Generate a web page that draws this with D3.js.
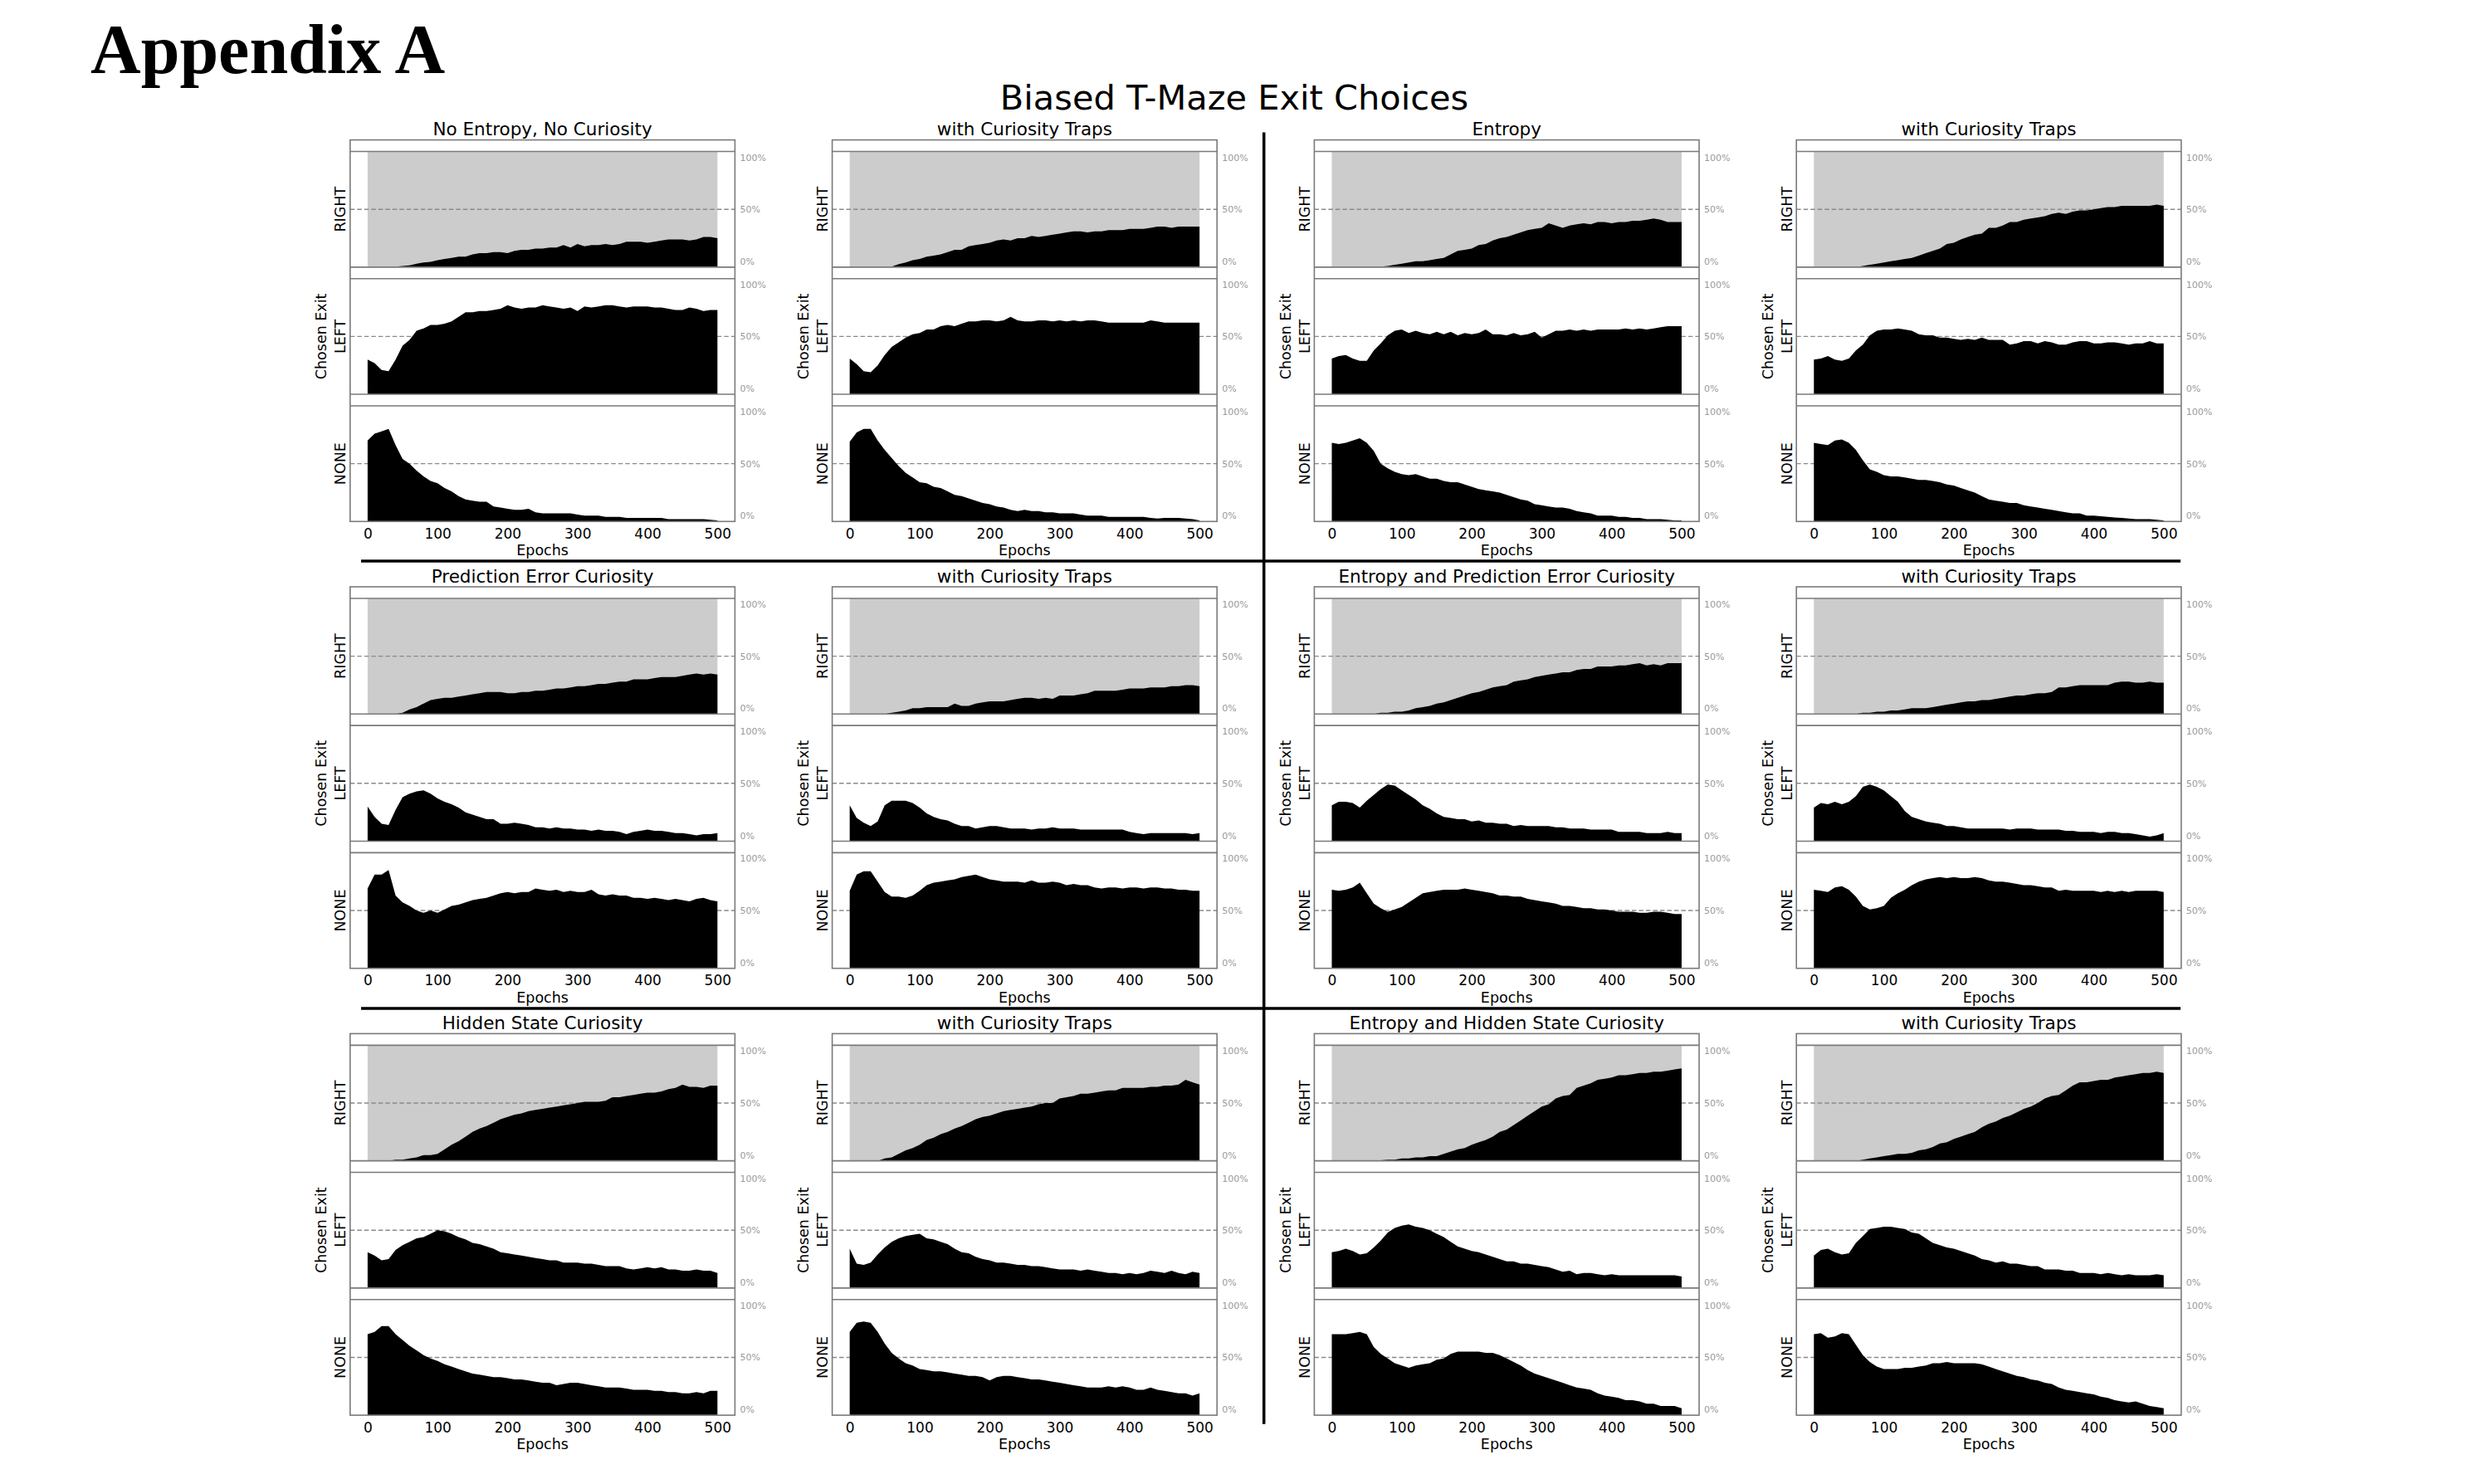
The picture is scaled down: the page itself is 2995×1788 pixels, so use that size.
<!DOCTYPE html>
<html><head><meta charset="utf-8">
<script src="https://cdn.jsdelivr.net/npm/d3@7"></script>
<style>
body{margin:0;background:#fff}
svg{display:block}
text{font-family:"DejaVu Sans",sans-serif}
</style>
</head><body>
<svg id="chart" width="2995" height="1788"></svg>
<script>
// ---------------- data ----------------
const epochs=[0,10,20,30,40,50,60,70,80,90,100,110,120,130,140,150,160,170,180,190,200,210,220,230,240,250,260,270,280,290,300,310,320,330,340,350,360,370,380,390,400,410,420,430,440,450,460,470,480,490,500];
const xTicks=[0,100,200,300,400,500];
const yTickValues=[0.05,0.5,0.95];
const yTickLabels=["0%","50%","100%"];
const exitLabels=["RIGHT","LEFT","NONE"];
const panelTitles=["No Entropy, No Curiosity","with Curiosity Traps","Entropy","with Curiosity Traps",
  "Prediction Error Curiosity","with Curiosity Traps","Entropy and Prediction Error Curiosity","with Curiosity Traps",
  "Hidden State Curiosity","with Curiosity Traps","Entropy and Hidden State Curiosity","with Curiosity Traps"];
const mainTitle="Biased T-Maze Exit Choices";
const headerText="Appendix A";

// values in percent, one per epoch in `epochs`
const right_p1=[0,0,0,0,0.5,1,1.5,3,4,4.5,6,7,8,9,9,11,12,12,13,13,12,14,15,15,16,16,17,17,19,17,20,18,19,19,20,19,20,22,22,22,21,22,23,24,24,24,23,24,26,26,25];
const left_p1=[30,27,21,20,30,42,47,55,57,60,60,61,63,67,71,71,72,72,73,74,77,75,74,75,75,77,76,75,74,75,72,76,75,76,77,77,76,75,76,76,76,75,75,74,73,73,75,74,72,73,73];
const none_p1=[70,76,78,80,66,54,50,44,39,35,33,29,26,22,19,18,17,17,13,12,11,10,10,11,8,7,7,7,7,7,6,5,5,5,4,4,4,3,3,3,3,3,3,2,2,2,2,2,2,1.5,1];

const right_p2=[0,0,0,0,0,0,0.5,2.5,4,6,7,9,10,11,13,15,15,18,19,20,21,23,24,23,25,25,27,26,27,28,29,30,31,31,30,31,31,32,32,32,33,33,33,34,35,35,34,35,35,35,35];
const left_p2=[31,26,20,19,25,34,41,45,49,52,53,56,56,59,60,59,61,63,63,64,64,63,64,67,64,63,63,64,64,63,64,63,64,63,64,64,63,62,62,62,62,62,62,64,63,62,62,62,62,62,62];
const none_p2=[69,77,80,80,70,62,55,48,42,38,34,33,30,29,26,23,22,20,18,16,15,13,12,10,9,10,9,9,8,8,7,7,7,6,5,5,5,4,4,4,4,4,4,3,2.5,3,3,3,2.5,2,1];

const right_p3=[0,0,0,0,0,0,0,0.5,1,2,3,4,5,5,6,7,8,11,14,15,16,19,20,23,25,26,28,30,32,33,34,38,36,34,36,37,38,37,39,39,38,39,39,40,40,41,42,41,39,39,39];
const left_p3=[31,33,34,31,29,29,38,44,51,55,56,53,55,53,52,54,52,54,51,53,52,53,56,52,52,51,53,51,52,54,49,52,55,55,56,55,56,55,56,56,56,56,57,56,57,56,57,58,59,59,59];
const none_p3=[68,67,68,70,72,68,61,50,46,43,41,40,41,39,37,37,35,34,34,32,30,28,27,26,25,23,21,19,18,15,14,13,12,12,11,9,8,7,5,5,5,4,4,3,3,2,2,2,1.5,1,1];

const right_p4=[0,0,0,0,0,0,0,1,2,3,4,5,6,7,8,10,12,14,16,20,21,24,26,28,29,34,34,36,39,39,41,42,43,44,46,47,46,48,49,49,50,51,52,52,53,53,53,53,53,54,53];
const left_p4=[30,31,33,30,29,31,38,43,51,55,56,56,57,56,55,52,51,51,49,49,48,47,48,47,49,47,47,47,43,44,46,46,44,46,45,43,43,45,46,46,44,44,45,45,44,43,44,44,46,44,44];
const none_p4=[68,67,66,70,71,68,62,53,45,43,40,39,39,38,37,36,36,35,34,32,31,29,27,25,22,19,18,17,16,16,14,13,12,11,10,9,8,7,7,5,5,4.5,4,3.5,3,2.5,2,2,2,1.5,1];

const right_p5=[0,0,0,0,0,1,4,6,9,12,13,14,14,15,16,17,18,19,19,19,18,18,19,19,20,20,21,22,22,23,24,24,25,26,26,27,28,28,30,30,30,31,32,32,32,33,34,35,34,35,34];
const left_p5=[30,21,15,14,27,38,41,43,44,41,37,34,32,29,25,23,21,19,19,15,15,16,15,14,12,12,11,12,11,11,10,10,9,10,9,9,8,6,8,9,10,9,9,8,7,7,6,5,6,6,7];
const none_p5=[69,81,81,85,63,57,54,50,48,50,48,51,54,55,57,59,60,61,63,65,66,65,66,66,69,68,67,68,66,67,66,66,68,64,63,64,63,63,61,61,60,61,60,59,60,59,58,60,61,59,58];

const right_p6=[0,0,0,0,0,0,1,2,3,5,5,6,6,6,6,9,7,7,9,10,11,11,11,12,13,14,14,13,14,13,16,16,16,17,18,20,20,20,20,21,22,22,22,23,23,23,24,24,25,25,24];
const left_p6=[31,20,16,13,17,31,35,35,35,33,29,24,21,19,18,15,13,13,11,12,13,13,12,11,11,11,10,11,11,12,11,11,11,10,10,10,10,10,10,10,8,7,6,7,7,7,7,7,7,6,7];
const none_p6=[67,81,84,84,75,66,62,62,61,63,67,72,74,75,76,77,79,80,81,79,77,76,75,75,75,74,76,74,74,75,74,72,73,72,72,70,69,70,70,69,70,70,69,70,70,69,69,68,68,67,67];

const right_p7=[0,0,0,0,0,0,0,1,1,2,2,3,5,6,7,9,10,12,14,16,18,19,21,23,24,25,28,29,30,32,33,34,35,36,36,38,39,39,41,41,41,42,42,43,44,42,43,42,44,44,44];
const left_p7=[31,34,34,33,29,35,40,45,49,48,44,40,36,31,28,24,21,20,19,19,17,18,16,16,15,15,13,14,13,13,13,13,12,12,11,11,11,10,10,10,10,8,8,8,8,7,7,7,8,7,7];
const none_p7=[68,67,68,70,74,65,56,52,49,51,53,57,61,65,66,67,68,68,68,69,68,67,66,65,63,63,62,62,60,59,58,57,56,54,54,53,52,52,51,51,50,49,49,49,48,48,49,49,48,47,47];

const right_p8=[0,0,0,0,0,0,0,1,1,2,2,3,3,4,5,5,5,6,7,8,9,10,11,11,12,12,13,14,15,16,16,17,18,18,19,23,23,24,25,25,25,25,25,27,28,28,27,27,28,27,27];
const left_p8=[29,33,32,34,32,34,39,47,49,47,44,39,34,26,21,19,17,16,15,13,13,12,11,11,11,11,11,11,10,11,11,11,10,10,10,10,9,9,8,8,8,7,8,8,7,7,6,5,4,5,7];
const none_p8=[68,67,66,70,71,68,62,54,51,52,54,61,65,68,72,75,77,78,79,78,79,78,78,79,78,76,75,75,74,73,72,72,71,70,70,67,68,67,67,67,67,66,67,66,67,66,67,67,67,67,66];

const right_p9=[0,0,0,0,1,1,2,3,5,5,6,10,14,17,21,25,28,30,33,36,38,40,41,43,44,45,46,47,48,49,50,51,51,51,52,55,55,56,57,58,59,59,60,62,63,66,64,64,63,65,65];
const left_p9=[31,28,24,25,33,37,40,43,44,47,50,49,47,44,42,39,38,36,34,31,30,29,28,27,26,25,24,24,22,22,22,21,21,20,19,19,19,17,16,17,18,17,18,16,16,15,15,16,15,15,13];
const none_p9=[70,72,77,77,70,65,60,56,52,49,47,44,42,40,38,36,35,34,33,33,32,31,31,30,29,28,28,26,27,28,28,27,26,25,24,24,24,23,22,22,22,21,21,20,20,19,19,20,19,21,21];

const right_p10=[0,0,0,0,0,2,3,6,9,11,14,18,20,23,25,28,30,33,36,38,39,41,43,44,45,46,47,49,50,50,54,55,56,58,58,59,60,61,61,63,63,63,63,64,64,65,65,66,70,68,66];
const left_p10=[34,21,20,22,29,35,40,43,45,46,47,43,42,40,38,34,31,30,27,25,24,22,22,21,20,20,19,19,18,17,16,16,16,15,16,15,14,13,13,12,13,12,13,15,14,13,15,13,12,14,13];
const none_p10=[72,80,81,80,72,62,54,49,45,43,40,39,38,38,37,36,35,34,34,33,30,33,34,34,33,32,31,31,30,29,28,27,26,25,24,24,24,25,24,25,24,22,22,24,22,21,20,19,19,17,19];

const right_p11=[0,0,0,0,0,0,0,0.5,1,1,2,2,3,3,4,4,6,8,10,11,14,16,18,21,25,27,31,35,39,43,47,49,54,56,57,63,65,67,70,71,72,74,74,75,76,76,77,77,78,79,80];
const left_p11=[31,32,34,32,29,30,35,41,48,52,54,55,53,52,50,47,44,40,36,34,32,31,29,27,25,23,23,21,21,20,19,18,16,14,15,12,13,13,12,11,12,11,11,11,11,11,11,11,11,11,10];
const none_p11=[70,70,70,71,72,70,59,53,49,45,43,41,43,44,45,48,49,53,55,55,55,55,54,54,52,49,46,43,39,36,34,32,30,28,26,24,23,22,19,17,16,15,13,13,12,10,10,8,8,8,6];

const right_p12=[0,0,0,0,0,0,0,1,2,3,4,5,6,6,7,9,10,12,15,16,19,21,23,25,29,32,34,37,39,42,45,47,50,54,56,57,61,65,68,68,69,70,70,72,73,74,75,76,76,77,76];
const left_p12=[28,33,34,31,29,30,39,45,51,52,53,53,52,51,48,47,43,39,37,35,34,32,30,28,25,24,22,23,21,21,20,19,19,16,16,16,15,15,13,13,13,12,13,12,11,12,11,11,11,12,11];
const none_p12=[70,71,67,68,71,70,61,52,46,42,40,40,40,41,41,42,43,45,45,46,45,45,45,45,44,42,40,38,36,34,33,31,30,28,27,24,22,21,20,19,18,16,15,13,12,11,12,10,8,7,6];

const panelSeries=[
  [right_p1,left_p1,none_p1],[right_p2,left_p2,none_p2],[right_p3,left_p3,none_p3],[right_p4,left_p4,none_p4],
  [right_p5,left_p5,none_p5],[right_p6,left_p6,none_p6],[right_p7,left_p7,none_p7],[right_p8,left_p8,none_p8],
  [right_p9,left_p9,none_p9],[right_p10,left_p10,none_p10],[right_p11,left_p11,none_p11],[right_p12,left_p12,none_p12]
];

// ---------------- drawing ----------------
const svg=d3.select("#chart");
svg.append("rect").attr("width",2995).attr("height",1788).attr("fill","#fff");

const colLeft=c=>421.8+c*580.8;
const rowTop=r=>168.6+r*538.4;
const W=463.6, H=459.7, Hs=H/3;
const frameColor="#7a7a7a";

svg.append("text").text(headerText)
  .attr("x",109).attr("y",88)
  .style("font-family",'"Liberation Serif","Times New Roman",serif')
  .style("font-weight","bold").style("font-size","84px").attr("fill","#000");

svg.append("text").text(mainTitle)
  .attr("x",1487).attr("y",132).attr("text-anchor","middle")
  .style("font-size","41.5px").attr("fill","#000");

panelTitles.forEach((title,i)=>{
  const r=Math.floor(i/4), c=i%4;
  const L=colLeft(c), T=rowTop(r);
  const g=svg.append("g").attr("transform",`translate(${L},${T})`);
  const x=d3.scaleLinear().domain([-25,525]).range([0,W]);

  panelSeries[i].forEach((vals,k)=>{
    const top=k*Hs;
    const y=d3.scaleLinear().domain([0,1.1]).range([top+Hs,top]);
    if(k===0){
      g.append("rect").attr("x",x(0)).attr("width",x(500)-x(0))
        .attr("y",y(1)).attr("height",y(0)-y(1)).attr("fill","#cccccc");
    }
    g.append("line").attr("x1",0).attr("x2",W).attr("y1",y(0.5)).attr("y2",y(0.5))
      .attr("stroke","#8a8a8a").attr("stroke-width",1.4).attr("stroke-dasharray","5.5,3");
    const area=d3.area().x((d,j)=>x(epochs[j])).y0(y(0)).y1(d=>y(d/100)).curve(d3.curveLinear);
    g.append("path").datum(vals).attr("d",area).attr("fill","#000");
    g.append("line").attr("x1",0).attr("x2",W).attr("y1",y(1)).attr("y2",y(1))
      .attr("stroke",frameColor).attr("stroke-width",1.6);
    if(k>0){
      g.append("line").attr("x1",0).attr("x2",W).attr("y1",top).attr("y2",top)
        .attr("stroke",frameColor).attr("stroke-width",1.6);
    }
    // right percentage axis
    const ax=d3.axisRight(y).tickValues(yTickValues)
      .tickFormat((d,j)=>yTickLabels[j]).tickSize(0).tickPadding(6);
    const ag=g.append("g").attr("transform",`translate(${W},0)`).call(ax);
    ag.select(".domain").remove();
    ag.attr("font-family",null).attr("font-size",null);
    ag.selectAll("text").style("font-size","11px").attr("fill","#9a9a9a");
    // exit label
    const cy=y(0.5);
    g.append("text").text(exitLabels[k])
      .attr("transform",`translate(-12,${cy}) rotate(-90)`)
      .attr("text-anchor","middle").attr("dy","0.36em")
      .style("font-size","17.5px").attr("fill","#000");
    if(k===1){
      g.append("text").text("Chosen Exit")
        .attr("transform",`translate(-35,${cy}) rotate(-90)`)
        .attr("text-anchor","middle").attr("dy","0.36em")
        .style("font-size","17.5px").attr("fill","#000");
    }
  });

  // frame
  g.append("rect").attr("x",0).attr("y",0).attr("width",W).attr("height",H)
    .attr("fill","none").attr("stroke",frameColor).attr("stroke-width",1.6);

  // bottom epoch axis
  const bx=d3.axisBottom(x).tickValues(xTicks).tickSize(0).tickPadding(0);
  const bg=g.append("g").attr("transform",`translate(0,${H})`).call(bx);
  bg.select(".domain").remove();
  bg.attr("font-family",null).attr("font-size",null);
  bg.selectAll("text").attr("y",20.7).attr("dy",null)
    .style("font-size","17px").attr("fill","#000");
  g.append("text").text("Epochs").attr("x",W/2).attr("y",H+41)
    .attr("text-anchor","middle").style("font-size","17.5px").attr("fill","#000");

  // panel title
  g.append("text").text(title).attr("x",W/2).attr("y",-5.2)
    .attr("text-anchor","middle").style("font-size","21.5px").attr("fill","#000");
});

// dividers
const hDividers=[676,1215];
hDividers.forEach(yy=>{
  svg.append("line").attr("x1",435).attr("x2",2627).attr("y1",yy).attr("y2",yy)
    .attr("stroke","#000").attr("stroke-width",3.5);
});
svg.append("line").attr("x1",1522.7).attr("x2",1522.7).attr("y1",159.6).attr("y2",1715.7)
  .attr("stroke","#000").attr("stroke-width",3.5);
</script>
</body></html>
